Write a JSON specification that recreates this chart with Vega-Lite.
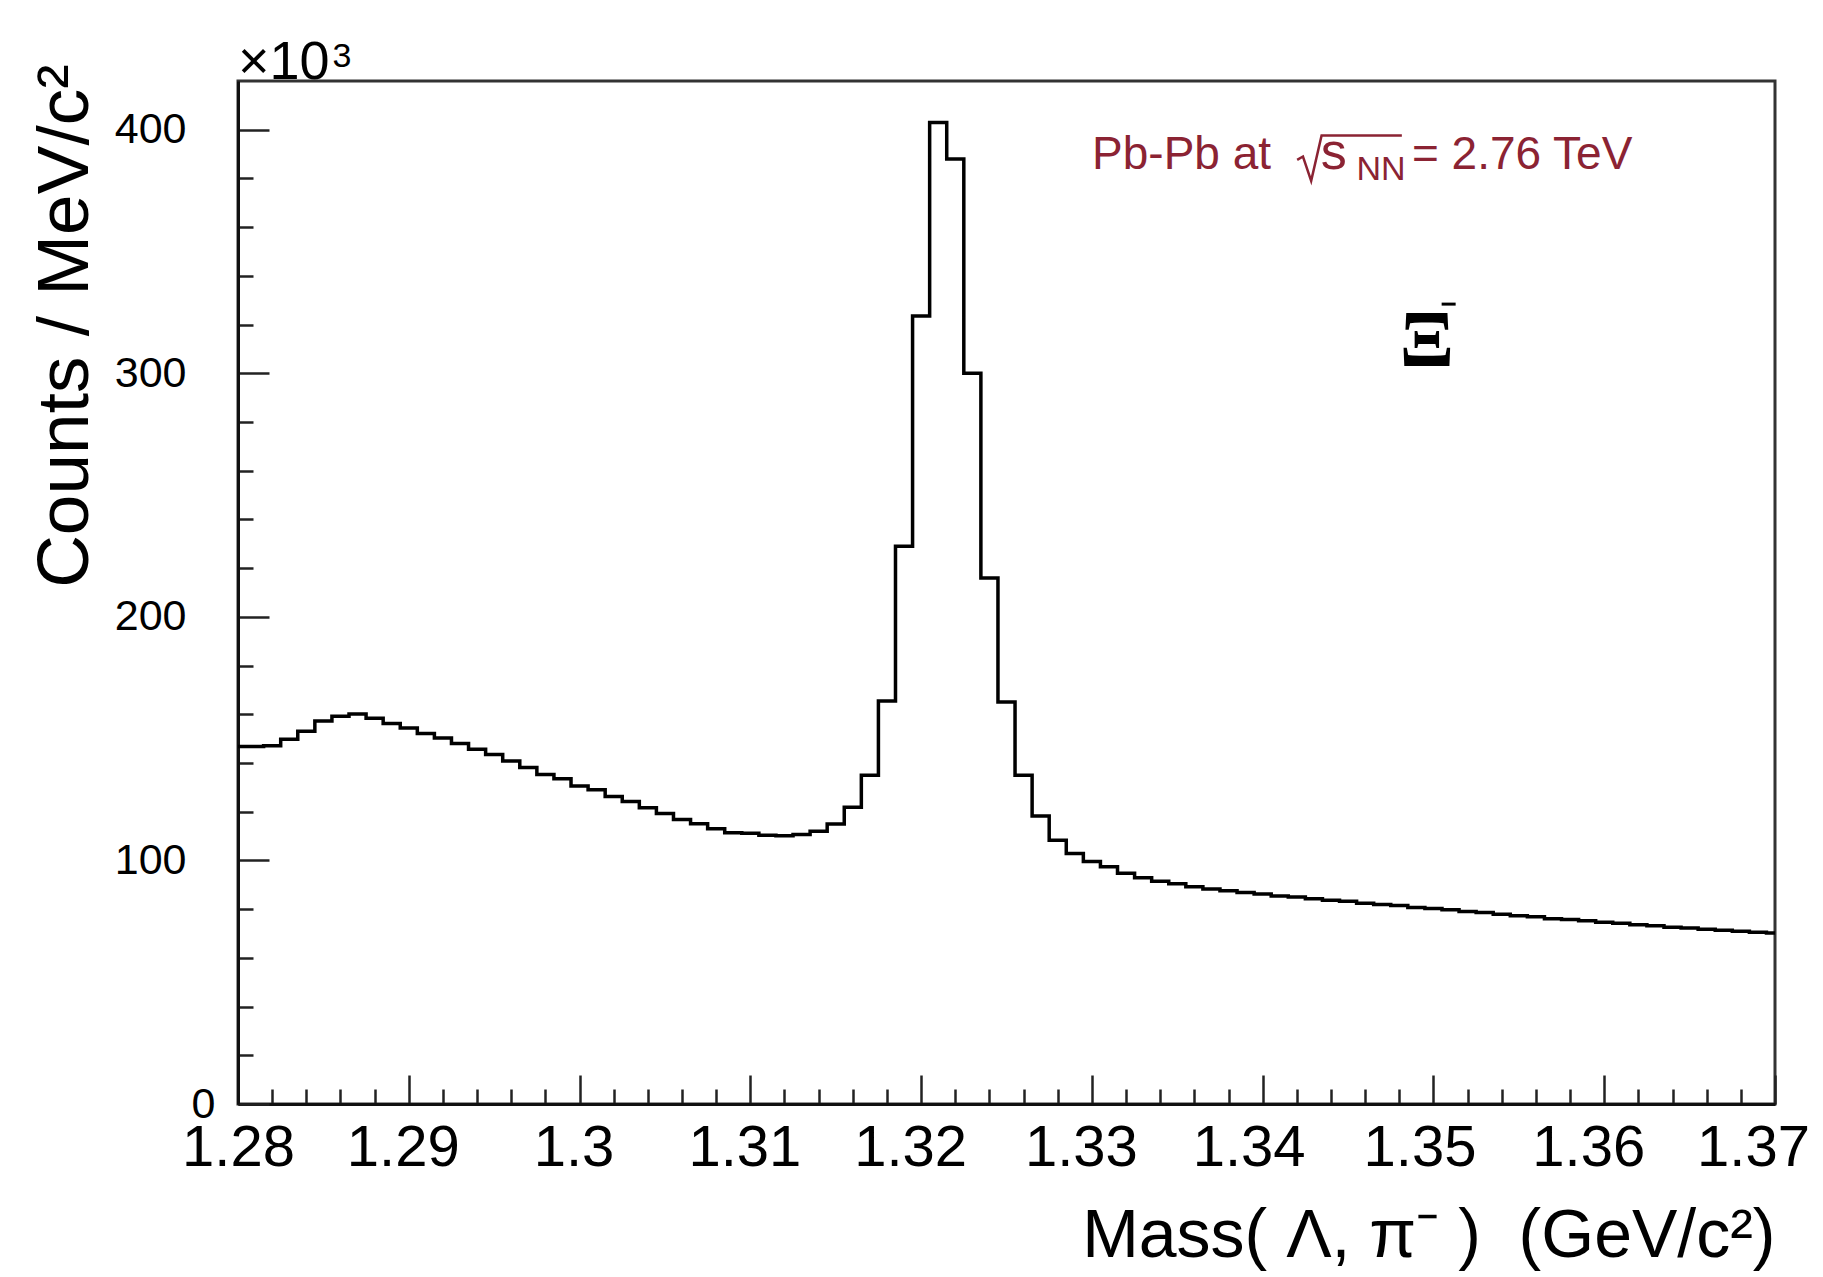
{
  "$schema": "https://vega.github.io/schema/vega-lite/v6.json",
  "width": 1537,
  "height": 1023,
  "autosize": {"type": "none"},
  "padding": {"left": 238, "top": 81, "right": 48, "bottom": 173},
  "background": "white",
  "config": {
    "view": {"stroke": "#333", "strokeWidth": 3},
    "font": "Liberation Sans",
    "axis": {
      "domainColor": "#111",
      "domainWidth": 3,
      "tickColor": "#222",
      "tickWidth": 2.5,
      "labelFont": "Liberation Sans",
      "labelColor": "black",
      "titleFont": "Liberation Sans",
      "titleColor": "black",
      "titleFontWeight": "normal",
      "grid": false,
      "labelFlush": false,
      "labelOverlap": false,
      "tickCount": 200
    }
  },
  "datasets": {
    "hist": [
      {"m": 1.28, "c": 146.8},
      {"m": 1.2805, "c": 146.8},
      {"m": 1.2815, "c": 147.1},
      {"m": 1.2825, "c": 149.7},
      {"m": 1.2835, "c": 153.0},
      {"m": 1.2845, "c": 157.2},
      {"m": 1.2855, "c": 159.2},
      {"m": 1.2865, "c": 160.1},
      {"m": 1.2875, "c": 158.4},
      {"m": 1.2885, "c": 156.2},
      {"m": 1.2895, "c": 154.4},
      {"m": 1.2905, "c": 152.1},
      {"m": 1.2915, "c": 150.3},
      {"m": 1.2925, "c": 148.0},
      {"m": 1.2935, "c": 145.6},
      {"m": 1.2945, "c": 143.5},
      {"m": 1.2955, "c": 140.8},
      {"m": 1.2965, "c": 138.2},
      {"m": 1.2975, "c": 135.3},
      {"m": 1.2985, "c": 133.5},
      {"m": 1.2995, "c": 130.6},
      {"m": 1.3005, "c": 129.0},
      {"m": 1.3015, "c": 126.2},
      {"m": 1.3025, "c": 124.2},
      {"m": 1.3035, "c": 121.6},
      {"m": 1.3045, "c": 119.3},
      {"m": 1.3055, "c": 116.8},
      {"m": 1.3065, "c": 115.1},
      {"m": 1.3075, "c": 113.0},
      {"m": 1.3085, "c": 111.4},
      {"m": 1.3095, "c": 111.2},
      {"m": 1.3105, "c": 110.3},
      {"m": 1.3115, "c": 110.1},
      {"m": 1.3125, "c": 110.6},
      {"m": 1.3135, "c": 112.0},
      {"m": 1.3145, "c": 115.0},
      {"m": 1.3155, "c": 121.8},
      {"m": 1.3165, "c": 135.0},
      {"m": 1.3175, "c": 165.5},
      {"m": 1.3185, "c": 229.0},
      {"m": 1.3195, "c": 323.5},
      {"m": 1.3205, "c": 403.0},
      {"m": 1.3215, "c": 388.0},
      {"m": 1.3225, "c": 300.0},
      {"m": 1.3235, "c": 216.0},
      {"m": 1.3245, "c": 165.0},
      {"m": 1.3255, "c": 135.0},
      {"m": 1.3265, "c": 118.2},
      {"m": 1.3275, "c": 108.3},
      {"m": 1.3285, "c": 102.8},
      {"m": 1.3295, "c": 99.6},
      {"m": 1.3305, "c": 97.4},
      {"m": 1.3315, "c": 94.7},
      {"m": 1.3325, "c": 92.9},
      {"m": 1.3335, "c": 91.5},
      {"m": 1.3345, "c": 90.4},
      {"m": 1.3355, "c": 89.2},
      {"m": 1.3365, "c": 88.3},
      {"m": 1.3375, "c": 87.6},
      {"m": 1.3385, "c": 86.8},
      {"m": 1.3395, "c": 86.2},
      {"m": 1.3405, "c": 85.4},
      {"m": 1.3415, "c": 85.0},
      {"m": 1.3425, "c": 84.3},
      {"m": 1.3435, "c": 83.6},
      {"m": 1.3445, "c": 83.2},
      {"m": 1.3455, "c": 82.4},
      {"m": 1.3465, "c": 81.9},
      {"m": 1.3475, "c": 81.5},
      {"m": 1.3485, "c": 80.7},
      {"m": 1.3495, "c": 80.3},
      {"m": 1.3505, "c": 79.7},
      {"m": 1.3515, "c": 79.0},
      {"m": 1.3525, "c": 78.6},
      {"m": 1.3535, "c": 77.9},
      {"m": 1.3545, "c": 77.3},
      {"m": 1.3555, "c": 76.9},
      {"m": 1.3565, "c": 76.1},
      {"m": 1.3575, "c": 75.7},
      {"m": 1.3585, "c": 75.2},
      {"m": 1.3595, "c": 74.6},
      {"m": 1.3605, "c": 74.2},
      {"m": 1.3615, "c": 73.6},
      {"m": 1.3625, "c": 73.2},
      {"m": 1.3635, "c": 72.6},
      {"m": 1.3645, "c": 72.3},
      {"m": 1.3655, "c": 71.7},
      {"m": 1.3665, "c": 71.3},
      {"m": 1.3675, "c": 70.9},
      {"m": 1.3685, "c": 70.5},
      {"m": 1.3695, "c": 70.2},
      {"m": 1.37, "c": 70.2}
    ],
    "sqrtsign": [
      {"i": 0, "m": 1.34202, "c": 387.6},
      {"i": 1, "m": 1.34236, "c": 389.0},
      {"i": 2, "m": 1.34284, "c": 379.0},
      {"i": 3, "m": 1.34345, "c": 397.6},
      {"i": 4, "m": 1.34815, "c": 397.6}
    ],
    "one": [{}]
  },
  "layer": [
    {
      "data": {"name": "hist"},
      "mark": {"type": "line", "interpolate": "step-after", "color": "black", "strokeWidth": 3.5, "clip": true},
      "encoding": {
        "x": {
          "field": "m",
          "type": "quantitative",
          "scale": {"domain": [1.28, 1.37], "nice": false, "zero": false},
          "axis": {
            "title": "Mass( Λ, π⁻ )\u00a0\u00a0(GeV/c²)",
            "titleFontSize": 68,
            "titleAlign": "right",
            "titleAnchor": "end",
            "titleBaseline": "alphabetic",
            "titleX": 1537,
            "titleY": 152,
            "values": [1.28, 1.282, 1.284, 1.286, 1.288, 1.29, 1.292, 1.294, 1.296, 1.298, 1.3, 1.302, 1.304, 1.306, 1.308, 1.31, 1.312, 1.314, 1.316, 1.318, 1.32, 1.322, 1.324, 1.326, 1.328, 1.33, 1.332, 1.334, 1.336, 1.338, 1.34, 1.342, 1.344, 1.346, 1.348, 1.35, 1.352, 1.354, 1.356, 1.358, 1.36, 1.362, 1.364, 1.366, 1.368, 1.37],
            "labelExpr": "abs(datum.value * 100 - round(datum.value * 100)) < 0.001 ? format(datum.value, '~g') : ''",
            "tickSize": {"condition": {"test": "abs(datum.value * 100 - round(datum.value * 100)) < 0.001", "value": -29}, "value": -15},
            "labelOffset": {"condition": [
              {"test": "datum.value > 1.365", "value": -22},
              {"test": "datum.value > 1.355", "value": -16},
              {"test": "datum.value > 1.335", "value": -14},
              {"test": "datum.value > 1.315", "value": -11},
              {"test": "datum.value > 1.285", "value": -6}
            ], "value": 0},
            "labelPadding": 44,
            "labelFontSize": 58
          }
        },
        "y": {
          "field": "c",
          "type": "quantitative",
          "scale": {"domain": [0, 420], "nice": false, "zero": true},
          "axis": {
            "title": "Counts / MeV/c²",
            "titleFontSize": 73,
            "titleAngle": -90,
            "titleAlign": "right",
            "titleAnchor": "end",
            "titleBaseline": "alphabetic",
            "titleX": -151,
            "titleY": -17,
            "values": [0, 20, 40, 60, 80, 100, 120, 140, 160, 180, 200, 220, 240, 260, 280, 300, 320, 340, 360, 380, 400],
            "labelExpr": "datum.value % 100 == 0 ? format(datum.value, 'd') : ''",
            "tickSize": {"condition": {"test": "datum.value % 100 == 0", "value": -31}, "value": -15},
            "labelPadding": {"condition": {"test": "datum.value == 0", "value": 54}, "value": 83},
            "labelFontSize": 43
          }
        }
      }
    },
    {
      "data": {"name": "sqrtsign"},
      "mark": {"type": "line", "color": "#8b2333", "strokeWidth": 2.5, "clip": false},
      "encoding": {
        "x": {"field": "m", "type": "quantitative"},
        "y": {"field": "c", "type": "quantitative"},
        "order": {"field": "i"}
      }
    },
    {
      "data": {"name": "one"},
      "mark": {"type": "text", "text": "Pb-Pb at", "align": "left", "baseline": "alphabetic", "fontSize": 46, "font": "Liberation Sans", "color": "#8b2333"},
      "encoding": {"x": {"datum": 1.33001}, "y": {"datum": 384}}
    },
    {
      "data": {"name": "one"},
      "mark": {"type": "text", "text": "s", "align": "left", "baseline": "alphabetic", "fontSize": 52, "font": "Liberation Sans", "color": "#8b2333"},
      "encoding": {"x": {"datum": 1.3434}, "y": {"datum": 384}}
    },
    {
      "data": {"name": "one"},
      "mark": {"type": "text", "text": "NN", "align": "left", "baseline": "alphabetic", "fontSize": 34, "font": "Liberation Sans", "color": "#8b2333"},
      "encoding": {"x": {"datum": 1.34549}, "y": {"datum": 379.4}}
    },
    {
      "data": {"name": "one"},
      "mark": {"type": "text", "text": "= 2.76 TeV", "align": "left", "baseline": "alphabetic", "fontSize": 46, "font": "Liberation Sans", "color": "#8b2333"},
      "encoding": {"x": {"datum": 1.34874}, "y": {"datum": 384}}
    },
    {
      "data": {"name": "one"},
      "mark": {"type": "text", "text": "Ξ", "align": "center", "baseline": "alphabetic", "fontSize": 80, "font": "Liberation Serif", "fontWeight": "bold", "color": "black"},
      "encoding": {"x": {"datum": 1.34962}, "y": {"datum": 302.8}}
    },
    {
      "data": {"name": "one"},
      "mark": {"type": "rule", "color": "black", "strokeWidth": 3},
      "encoding": {"x": {"datum": 1.35048}, "x2": {"datum": 1.3513}, "y": {"datum": 328.4}}
    },
    {
      "data": {"name": "one"},
      "mark": {"type": "text", "text": "×10", "align": "left", "baseline": "alphabetic", "fontSize": 54, "font": "Liberation Sans", "color": "black", "clip": false},
      "encoding": {"x": {"datum": 1.28}, "y": {"datum": 421}}
    },
    {
      "data": {"name": "one"},
      "mark": {"type": "text", "text": "3", "align": "left", "baseline": "alphabetic", "fontSize": 34, "font": "Liberation Sans", "color": "black", "clip": false},
      "encoding": {"x": {"datum": 1.28553}, "y": {"datum": 425.8}}
    }
  ]
}
